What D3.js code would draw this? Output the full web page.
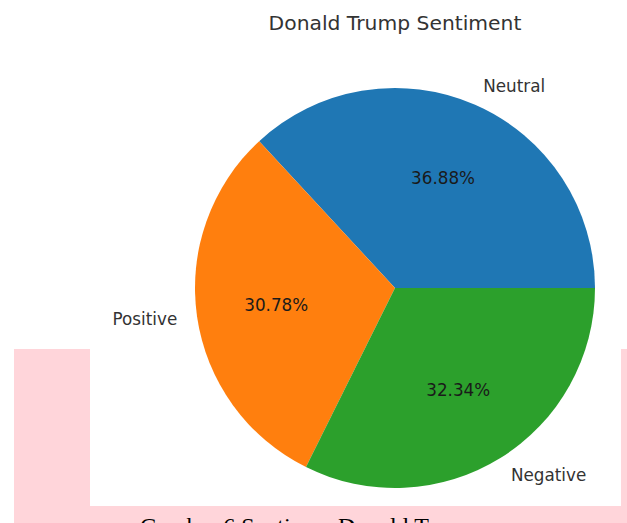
<!DOCTYPE html>
<html>
<head>
<meta charset="utf-8">
<script src="https://cdn.jsdelivr.net/npm/d3@7"></script>
<style>
  body { margin: 0; background: #fff; }
  svg { display: block; }
</style>
</head>
<body>
<div id="chart"></div>
<script>
// Data
const labels = ["Neutral", "Positive", "Negative"];
const shares = [36.88, 30.78, 32.34];
const colors = ["#1f77b4", "#ff7f0e", "#2ca02c"];
const chartTitle = "Donald Trump Sentiment";
const caption = "Gambar 6 Sentimen Donald Trump";

const width = 627, height = 523;
const cx = 395, cy = 288, radius = 200;

const svg = d3.select("#chart").append("svg")
  .attr("width", width)
  .attr("height", height);

// page background around the pasted chart
svg.append("rect")
  .attr("x", 14).attr("y", 349)
  .attr("width", width - 14).attr("height", height - 349)
  .attr("fill", "#ffd5da");
svg.append("rect")
  .attr("x", 90).attr("y", 0)
  .attr("width", 531).attr("height", 506)
  .attr("fill", "#fff");

// document caption, cut by the bottom edge as in the screenshot
svg.append("text")
  .attr("x", 140).attr("y", 534)
  .attr("font-family", "Liberation Serif, serif")
  .attr("font-size", 24)
  .attr("fill", "#000")
  .text(caption);

svg.append("text")
  .attr("x", cx).attr("y", 30)
  .attr("text-anchor", "middle")
  .attr("font-family", "DejaVu Sans, sans-serif")
  .attr("font-size", 20.3)
  .attr("fill", "#333")
  .text(chartTitle);

// matplotlib pie: starts at 3 o'clock, goes counterclockwise
const pie = d3.pie().sort(null)
  .startAngle(Math.PI / 2)
  .endAngle(Math.PI / 2 - 2 * Math.PI);

const data = labels.map((l, i) => ({ label: l, value: shares[i], color: colors[i] }));
const arcs = pie.value(d => d.value)(data);

const arc = d3.arc().innerRadius(0).outerRadius(radius);
const labelArc = d3.arc().innerRadius(radius * 1.1).outerRadius(radius * 1.1);
const pctArc = d3.arc().innerRadius(radius * 0.6).outerRadius(radius * 0.6);

const g = svg.append("g").attr("transform", "translate(" + cx + "," + cy + ")");

g.selectAll("path")
  .data(arcs)
  .enter().append("path")
  .attr("d", arc)
  .attr("fill", d => d.data.color);

g.selectAll(".lbl")
  .data(arcs)
  .enter().append("text")
  .attr("class", "lbl")
  .attr("transform", d => "translate(" + labelArc.centroid(d) + ")")
  .attr("text-anchor", d => labelArc.centroid(d)[0] > 0 ? "start" : "end")
  .attr("dominant-baseline", "central")
  .attr("font-family", "DejaVu Sans, sans-serif")
  .attr("font-size", 16.8)
  .attr("fill", "#333")
  .text(d => d.data.label);

g.selectAll(".pct")
  .data(arcs)
  .enter().append("text")
  .attr("class", "pct")
  .attr("transform", d => "translate(" + pctArc.centroid(d) + ")")
  .attr("text-anchor", "middle")
  .attr("dominant-baseline", "central")
  .attr("font-family", "DejaVu Sans, sans-serif")
  .attr("font-size", 16.8)
  .attr("fill", "#1a1a1a")
  .text(d => d.data.value.toFixed(2) + "%");
</script>
</body>
</html>
